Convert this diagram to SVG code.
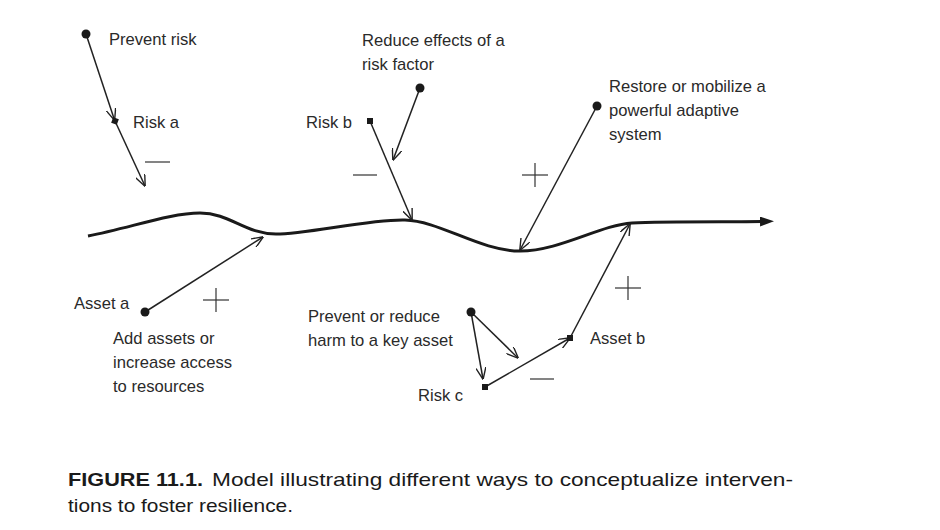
<svg xmlns="http://www.w3.org/2000/svg" width="940" height="530" viewBox="0 0 940 530">
<style>
  .lbl { font-family: "Liberation Sans", Arial, sans-serif; font-size: 16.6px; fill: #2a2a2a; }
  .cap { font-family: "Liberation Sans", Arial, sans-serif; font-size: 19px; fill: #1a1a1a; }
  .capb { font-family: "Liberation Sans", Arial, sans-serif; font-size: 19px; font-weight: bold; fill: #1a1a1a; }
  .ln { fill: none; stroke: #222; stroke-width: 1.5; }
  .arr { fill: none; stroke: #222; stroke-width: 1.5; marker-end: url(#ah); }
  .sign { fill: none; stroke: #333; stroke-width: 1.2; }
  .dot { fill: #1a1a1a; }
</style>
<defs>
  <marker id="ah" viewBox="0 0 12 10" refX="11.5" refY="5" markerWidth="12" markerHeight="10" markerUnits="userSpaceOnUse" orient="auto">
    <path d="M0,0 L12,5 L0,10" fill="none" stroke="#222" stroke-width="1.4"/>
  </marker>
  <marker id="big" viewBox="0 0 14 10" refX="2" refY="5" markerWidth="14" markerHeight="10" markerUnits="userSpaceOnUse" orient="auto">
    <path d="M0,0 L14,5 L0,10 Z" fill="#1a1a1a"/>
  </marker>
</defs>
<rect width="940" height="530" fill="#ffffff"/>

<g id="connectors">
  <path id="trajectory" d="M88,236 C130,228 170,213 200,213 S245,234 276,234 S370,219 405,220 S480,251 520,251 S600,225 632,223 S730,222 762,221.5" fill="none" stroke="#1a1a1a" stroke-width="3" marker-end="url(#big)"/>
  <line class="arr" x1="86" y1="34" x2="114.5" y2="120"/>
  <line class="arr" x1="115" y1="121" x2="145" y2="186"/>
  <line class="arr" x1="370" y1="121" x2="412" y2="220"/>
  <line class="arr" x1="420" y1="88" x2="393" y2="160"/>
  <line class="arr" x1="597" y1="106" x2="520" y2="250"/>
  <line class="arr" x1="145" y1="312" x2="263" y2="237"/>
  <line class="arr" x1="471" y1="312" x2="483" y2="379"/>
  <line class="arr" x1="471" y1="312" x2="518" y2="358"/>
  <line class="arr" x1="485" y1="387" x2="570" y2="338"/>
  <line class="arr" x1="570" y1="338" x2="630" y2="224"/>
</g>

<g id="prevent-risk">
  <circle class="dot" cx="86" cy="34" r="4.5"/>
  <text class="lbl" x="109" y="45">Prevent risk</text>
</g>
<g id="risk-a">
  <rect class="dot" x="112" y="118" width="6" height="6" transform="rotate(20 115 121)"/>
  <text class="lbl" x="133" y="128">Risk a</text>
  <line class="sign" x1="145" y1="162" x2="170" y2="162"/>
</g>
<g id="reduce-effects">
  <circle class="dot" cx="420" cy="88" r="4.5"/>
  <text class="lbl" x="362" y="46">Reduce effects of a</text>
  <text class="lbl" x="362" y="70">risk factor</text>
</g>
<g id="risk-b">
  <rect class="dot" x="367" y="118" width="6" height="6"/>
  <text class="lbl" x="306" y="128">Risk b</text>
  <line class="sign" x1="353" y1="175" x2="377" y2="175"/>
</g>
<g id="restore">
  <circle class="dot" cx="597" cy="106" r="4.5"/>
  <text class="lbl" x="609" y="92">Restore or mobilize a</text>
  <text class="lbl" x="609" y="116">powerful adaptive</text>
  <text class="lbl" x="609" y="140">system</text>
  <line class="sign" x1="522" y1="175" x2="548" y2="175"/>
  <line class="sign" x1="535" y1="163" x2="535" y2="187"/>
</g>
<g id="asset-a">
  <circle class="dot" cx="145" cy="312" r="4.5"/>
  <text class="lbl" x="74" y="309">Asset a</text>
  <text class="lbl" x="113" y="344">Add assets or</text>
  <text class="lbl" x="113" y="368">increase access</text>
  <text class="lbl" x="113" y="392">to resources</text>
  <line class="sign" x1="203" y1="300" x2="229" y2="300"/>
  <line class="sign" x1="216" y1="288" x2="216" y2="312"/>
</g>
<g id="prevent-harm">
  <circle class="dot" cx="471" cy="312" r="4.5"/>
  <text class="lbl" x="308" y="322">Prevent or reduce</text>
  <text class="lbl" x="308" y="346">harm to a key asset</text>
</g>
<g id="risk-c">
  <rect class="dot" x="482" y="384" width="6" height="6"/>
  <text class="lbl" x="418" y="401">Risk c</text>
  <line class="sign" x1="530" y1="379" x2="554" y2="379"/>
</g>
<g id="asset-b">
  <rect class="dot" x="567" y="335" width="6" height="6"/>
  <text class="lbl" x="590" y="344">Asset b</text>
  <line class="sign" x1="615" y1="288" x2="641" y2="288"/>
  <line class="sign" x1="628" y1="276" x2="628" y2="300"/>
</g>

<g id="caption">
  <text class="capb" x="68" y="486" textLength="135" lengthAdjust="spacingAndGlyphs">FIGURE 11.1.</text>
  <text class="cap" x="212" y="486" textLength="581" lengthAdjust="spacingAndGlyphs">Model illustrating different ways to conceptualize interven-</text>
  <text class="cap" x="68" y="512" textLength="225" lengthAdjust="spacingAndGlyphs">tions to foster resilience.</text>
</g>
</svg>
